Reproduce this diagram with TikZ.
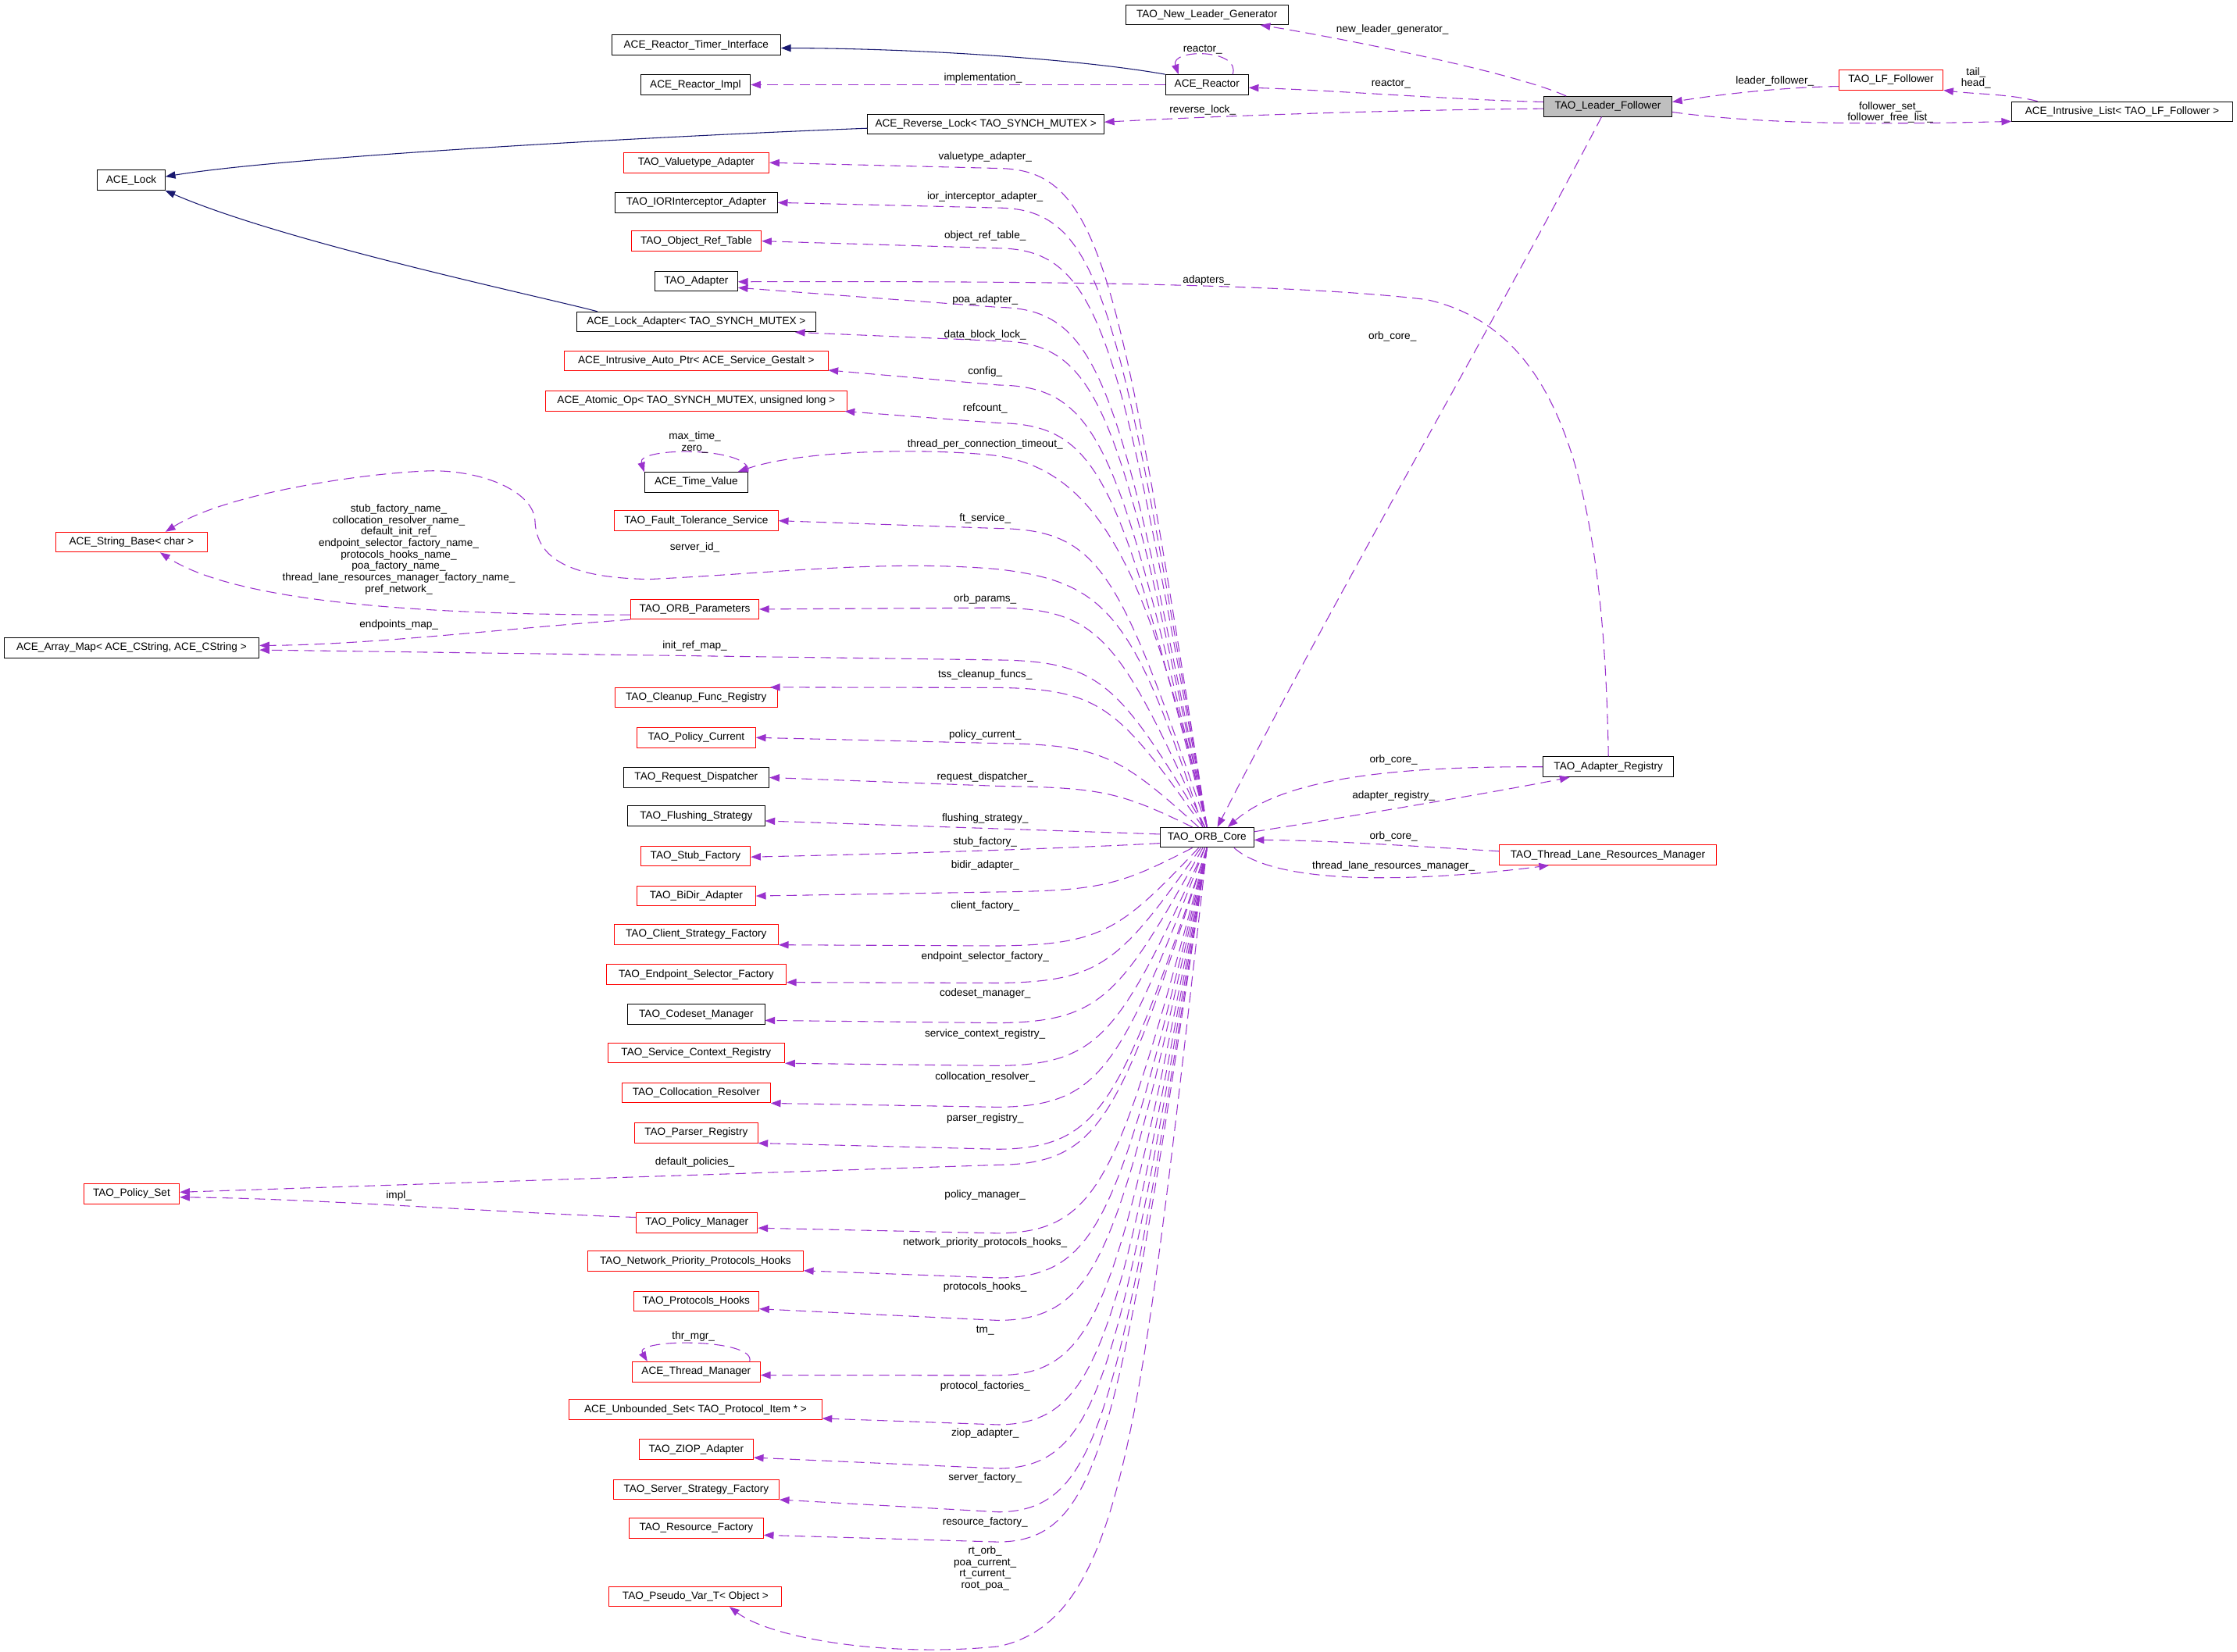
\documentclass[tikz,border=0pt]{standalone}
\usepackage{fontspec}
\setmainfont{Liberation Sans}
\usepackage{tikz}
\usetikzlibrary{arrows.meta}
\definecolor{usecol}{HTML}{9A32CD}
\definecolor{inhcol}{HTML}{191970}
\definecolor{bggray}{HTML}{BFBFBF}
\begin{document}
\begin{tikzpicture}[x=1.37pt, y=-1.37pt,
  every node/.style={font=\fontsize{10.2}{11}\selectfont},
  cls/.style={draw=black, fill=white, line width=0.75pt, minimum height=19.2pt, inner xsep=3pt, inner ysep=0pt},
  nodoc/.style={cls, draw=red},
  cur/.style={cls, fill=bggray},
  lbl/.style={inner sep=0pt, align=center},
  usage/.style={draw=usecol, line width=0.8pt, dash pattern=on 10pt off 5.5pt, -{Triangle[length=9.5pt,width=7pt]}},
  inh/.style={draw=inhcol, line width=0.8pt, -{Triangle[length=9.5pt,width=7pt]}}]
\useasboundingbox (0,0) rectangle (1568,1157.4);
% classes
\node[cls, minimum width=156pt] (nlg) at (846,10.3) {TAO\_New\_Leader\_Generator};
\node[cls, minimum width=162pt] (timer) at (488,31.6) {ACE\_Reactor\_Timer\_Interface};
\node[cls, minimum width=79.5pt] (reactor) at (846,59.4) {ACE\_Reactor};
\node[cls, minimum width=105.5pt] (rimpl) at (487.5,59.4) {ACE\_Reactor\_Impl};
\node[cur, minimum width=123pt] (lf) at (1127,74.6) {TAO\_Leader\_Follower};
\node[nodoc, minimum width=100pt] (lffollow) at (1325.5,56) {TAO\_LF\_Follower};
\node[cls, minimum width=212pt] (ilist) at (1487.5,78.3) {ACE\_Intrusive\_List< TAO\_LF\_Follower >};
\node[cls, minimum width=227pt] (revlock) at (691,87) {ACE\_Reverse\_Lock< TAO\_SYNCH\_MUTEX >};
\node[cls, minimum width=65pt] (acelock) at (92,126.3) {ACE\_Lock};
\node[nodoc, minimum width=140pt] (valadp) at (488,114) {TAO\_Valuetype\_Adapter};
\node[cls, minimum width=156pt] (iorada) at (488,142) {TAO\_IORInterceptor\_Adapter};
\node[nodoc, minimum width=125pt] (objref) at (488,169) {TAO\_Object\_Ref\_Table};
\node[cls, minimum width=79.5pt] (adapter) at (488,197) {TAO\_Adapter};
\node[cls, minimum width=229pt] (lockadp) at (488,225.6) {ACE\_Lock\_Adapter< TAO\_SYNCH\_MUTEX >};
\node[nodoc, minimum width=253pt] (autoptr) at (488,253) {ACE\_Intrusive\_Auto\_Ptr< ACE\_Service\_Gestalt >};
\node[nodoc, minimum width=289pt] (atomic) at (488,281) {ACE\_Atomic\_Op< TAO\_SYNCH\_MUTEX, unsigned long >};
\node[cls, minimum width=99pt] (timeval) at (488,338) {ACE\_Time\_Value};
\node[nodoc, minimum width=157.5pt] (ftserv) at (488,365) {TAO\_Fault\_Tolerance\_Service};
\node[nodoc, minimum width=146pt] (strbase) at (92.2,380) {ACE\_String\_Base< char >};
\node[nodoc, minimum width=123pt] (params) at (487,427) {TAO\_ORB\_Parameters};
\node[cls, minimum width=245pt] (arrmap) at (92.2,454) {ACE\_Array\_Map< ACE\_CString, ACE\_CString >};
\node[nodoc, minimum width=156pt] (cleanup) at (488,489) {TAO\_Cleanup\_Func\_Registry};
\node[nodoc, minimum width=114pt] (polcur) at (488,517) {TAO\_Policy\_Current};
\node[cls, minimum width=140pt] (reqdisp) at (488,545) {TAO\_Request\_Dispatcher};
\node[cls, minimum width=131.5pt] (flush) at (488,572) {TAO\_Flushing\_Strategy};
\node[nodoc, minimum width=105.5pt] (stubfac) at (487.5,600) {TAO\_Stub\_Factory};
\node[nodoc, minimum width=114pt] (bidir) at (488,628) {TAO\_BiDir\_Adapter};
\node[nodoc, minimum width=157.5pt] (clifac) at (488,655) {TAO\_Client\_Strategy\_Factory};
\node[nodoc, minimum width=172.6pt] (endsel) at (488,683) {TAO\_Endpoint\_Selector\_Factory};
\node[cls, minimum width=131.5pt] (codeset) at (488,711) {TAO\_Codeset\_Manager};
\node[nodoc, minimum width=170pt] (svcctx) at (488,738) {TAO\_Service\_Context\_Registry};
\node[nodoc, minimum width=142.5pt] (colloc) at (488,766) {TAO\_Collocation\_Resolver};
\node[nodoc, minimum width=118pt] (parser) at (488,794) {TAO\_Parser\_Registry};
\node[nodoc, minimum width=92pt] (polset) at (92.2,836.8) {TAO\_Policy\_Set};
\node[nodoc, minimum width=116.5pt] (polmgr) at (488.5,857) {TAO\_Policy\_Manager};
\node[nodoc, minimum width=207pt] (netprio) at (487.5,884) {TAO\_Network\_Priority\_Protocols\_Hooks};
\node[nodoc, minimum width=120.5pt] (prothooks) at (488,912) {TAO\_Protocols\_Hooks};
\node[nodoc, minimum width=123pt] (thrmgr) at (488,961.5) {ACE\_Thread\_Manager};
\node[nodoc, minimum width=242.5pt] (protset) at (487.5,988) {ACE\_Unbounded\_Set< TAO\_Protocol\_Item * >};
\node[nodoc, minimum width=109.6pt] (ziop) at (488,1016) {TAO\_ZIOP\_Adapter};
\node[nodoc, minimum width=159pt] (srvfac) at (488,1044) {TAO\_Server\_Strategy\_Factory};
\node[nodoc, minimum width=129pt] (resfac) at (488,1071) {TAO\_Resource\_Factory};
\node[nodoc, minimum width=165.8pt] (pseudo) at (487.5,1119) {TAO\_Pseudo\_Var\_T< Object >};
\node[cls, minimum width=90pt] (core) at (846,587) {TAO\_ORB\_Core};
\node[cls, minimum width=125.5pt] (adreg) at (1127.4,537.5) {TAO\_Adapter\_Registry};
\node[nodoc, minimum width=208pt] (tlrm) at (1127,599.3) {TAO\_Thread\_Lane\_Resources\_Manager};
% inheritance
\draw[inh] (reactor.166) .. controls (760,42) and (650,34) .. (timer.-2);
\draw[inh] (revlock.182.3) .. controls (450,96) and (200,110) .. (acelock.6.5);
\draw[inh] (lockadp.174) .. controls (380,208) and (200,170) .. (acelock.-17);
% leader follower part
\draw[usage] (reactor.22.4) .. controls (870,34) and (820,34) .. (reactor.160.7);
\draw[usage] (reactor.west) -- (rimpl.east);
\draw[usage] (lf.166.4) .. controls (1060,50) and (930,25) .. (nlg.-11);
\draw[usage] (lf.176) .. controls (1020,70) and (930,63) .. (reactor.-4);
\draw[usage] (lf.182) .. controls (990,77) and (880,80) .. (revlock.1.5);
\draw[usage] (lffollow.187.3) .. controls (1260,61) and (1220,64) .. (lf.4.8);
\draw[usage] (ilist.173) .. controls (1410,66) and (1385,66) .. (lffollow.south east);
\draw[usage] (lf.-5.6) .. controls (1240,88) and (1330,87) .. (ilist.-175.6);
\draw[usage] ([xshift=-6pt]lf.south) .. controls (1040,240) and (940,410) .. ([xshift=10pt]core.north);
% adapter registry and lane resources
\draw[usage] (adreg.west) .. controls (980,537) and (900,545) .. ([xshift=20pt]core.north);
\draw[usage] (core.7) .. controls (930,575) and (1050,555) .. (adreg.-165.2);
\draw[usage] (tlrm.178) .. controls (990,593) and (930,589) .. (core.-3);
\draw[usage] ([xshift=26pt]core.south) .. controls (900,625) and (1020,615) .. (tlrm.-170.3);
\draw[usage] (adreg.north) .. controls (1124,330) and (1090,230) .. (1000,210) .. controls (900,198) and (700,197) .. (adapter.-1.4);
% orb core, upper members
\draw[usage] (core.north) .. controls (785,187.3) and (772,119) .. (700,118) -- (valadp.east);
\draw[usage] (core.north) .. controls (785,210.8) and (772,146.7) .. (700,145.7) -- (iorada.east);
\draw[usage] (core.north) .. controls (785,234.9) and (772,175) .. (700,174) -- (objref.east);
\draw[usage] (core.north) .. controls (785,270.1) and (772,216.4) .. (700,215.4) -- (adapter.-9.3);
\draw[usage] (core.north) .. controls (785,290.2) and (772,240) .. (700,239) -- (lockadp.-6);
\draw[usage] (core.north) .. controls (785,316.4) and (772,270.9) .. (700,269.9) -- (autoptr.-4.7);
\draw[usage] (core.north) .. controls (785,339) and (772,297.5) .. (700,296.5) -- (atomic.-4);
\draw[usage] (core.north) .. controls (805,400) and (770,325) .. (691,318.6) .. controls (640,314) and (560,316) .. (timeval.14);
\draw[usage] (timeval.11) .. controls (528,313) and (446,313) .. (timeval.169);
\draw[usage] (core.north) .. controls (785,401.8) and (772,371.4) .. (700,370.4) -- (ftserv.east);
\draw[usage] ([xshift=-4pt]core.north) .. controls (795,430) and (775,408) .. (700,399) .. controls (620,392) and (540,402) .. (455,406) .. controls (400,405) and (376,392) .. (375,365) .. controls (374,345) and (340,330) .. (303,330) .. controls (260,331) and (160,345) .. (strbase.17.1);
\draw[usage] ([xshift=-2pt]core.north) .. controls (785,449) and (772,427) .. (700,426) -- (params.east);
\draw[usage] (params.185) .. controls (320,431) and (170,425) .. (strbase.-20.3);
\draw[usage] (params.south west) .. controls (360,440) and (260,452) .. (arrmap.1.5);
\draw[usage] ([xshift=-2pt]core.north) .. controls (785,480.2) and (772,463.6) .. (700,462.6) -- (arrmap.-1);
\draw[usage] ([xshift=-4pt]core.north) .. controls (785,496.7) and (772,483) .. (700,482) -- (cleanup.8.5);
\draw[usage] ([xshift=-8pt]core.north) .. controls (785,529.9) and (772,522) .. (700,521) -- (polcur.east);
\draw[usage] ([xshift=-14pt]core.north) .. controls (785,555) and (772,552) .. (700,551) -- (reqdisp.east);
\draw[usage] (core.176.6) -- (flush.-4.2);
\draw[usage] (core.187.8) .. controls (760,594) and (650,598) .. (stubfac.-1.5);
% orb core, lower members
\draw[usage] ([xshift=-14pt]core.south) .. controls (785,620.5) and (772,624.2) .. (700,625.2) -- (bidir.east);
\draw[usage] ([xshift=-8pt]core.south) .. controls (785,652.7) and (772,662) .. (700,663) -- (clifac.south east);
\draw[usage] ([xshift=-6pt]core.south) .. controls (785,674.8) and (772,688) .. (700,689) -- (endsel.-5);
\draw[usage] ([xshift=-4pt]core.south) .. controls (785,698.6) and (772,716) .. (700,717) -- (codeset.-5.6);
\draw[usage] ([xshift=-2pt]core.south) .. controls (785,724) and (772,746) .. (700,747) -- (svcctx.south east);
\draw[usage] ([xshift=-2pt]core.south) .. controls (785,748.7) and (772,775) .. (700,776) -- (colloc.south east);
\draw[usage] (core.south) .. controls (785,773.8) and (772,804.5) .. (700,805.5) -- (parser.south east);
\draw[usage] (core.south) .. controls (785,783.1) and (772,815.5) .. (700,816.5) -- (polset.2);
\draw[usage] (polmgr.175) .. controls (350,850) and (220,840) .. (polset.-4.5);
\draw[usage] (core.south) .. controls (785,823.8) and (772,863.4) .. (700,864.4) -- (polmgr.-5.3);
\draw[usage] (core.south) .. controls (785,850.4) and (772,894.7) .. (700,895.7) -- (netprio.-5.5);
\draw[usage] (core.south) .. controls (785,875.8) and (772,924.5) .. (700,925.5) -- (prothooks.-7.8);
\draw[usage] (thrmgr.11.6) .. controls (530,938) and (444,938) .. (thrmgr.168.4);
\draw[usage] (core.south) .. controls (785,908.5) and (772,963) .. (700,964) -- (thrmgr.-3.8);
\draw[usage] (core.south) .. controls (785,937.9) and (772,997.6) .. (700,998.6) -- (protset.-4.7);
\draw[usage] (core.south) .. controls (785,964) and (772,1028.3) .. (700,1029.3) -- (ziop.-8.5);
\draw[usage] (core.south) .. controls (785,989.9) and (772,1058.8) .. (700,1059.8) -- (srvfac.-7);
\draw[usage] (core.south) .. controls (785,1007.8) and (772,1079.8) .. (700,1080.8) -- (resfac.-6);
\draw[usage] (core.south) .. controls (800,1000) and (788,1135) .. (700,1154) .. controls (620,1162) and (540,1148) .. (pseudo.-17.65);
% edge labels
\node[lbl] (lnlg) at (976,21) {new\_leader\_generator\_};
\node[lbl] (lreactorself) at (843,35) {reactor\_};
\node[lbl] (limpl) at (689,55) {implementation\_};
\node[lbl] (lreactor) at (975,59) {reactor\_};
\node[lbl] (lrevlock) at (843,77) {reverse\_lock\_};
\node[lbl] (lleader) at (1244,57) {leader\_follower\_};
\node[lbl] (ltailhead) at (1385,54.7) {tail\_\\head\_};
\node[lbl] (lfollower) at (1325,78.8) {follower\_set\_\\follower\_free\_list\_};
\node[lbl] (lvaluetype) at (690.5,110) {valuetype\_adapter\_};
\node[lbl] (lior) at (690.5,137.8) {ior\_interceptor\_adapter\_};
\node[lbl] (lobjref) at (690.5,165.5) {object\_ref\_table\_};
\node[lbl] (ladapters) at (845.7,196.3) {adapters\_};
\node[lbl] (lpoa) at (690.5,210) {poa\_adapter\_};
\node[lbl] (ldatablock) at (690.5,234.7) {data\_block\_lock\_};
\node[lbl] (lorbcorelf) at (976,236) {orb\_core\_};
\node[lbl] (lconfig) at (690.5,260.4) {config\_};
\node[lbl] (lrefcount) at (690.5,286.2) {refcount\_};
\node[lbl] (ltimeself) at (487,310) {max\_time\_\\zero\_};
\node[lbl] (ltimeout) at (690.5,311.3) {thread\_per\_connection\_timeout\_};
\node[lbl] (lftserv) at (690.5,363.6) {ft\_service\_};
\node[lbl] (lstrnames) at (279.5,385.1) {stub\_factory\_name\_\\collocation\_resolver\_name\_\\default\_init\_ref\_\\endpoint\_selector\_factory\_name\_\\protocols\_hooks\_name\_\\poa\_factory\_name\_\\thread\_lane\_resources\_manager\_factory\_name\_\\pref\_network\_};
\node[lbl] (lserverid) at (487,383.8) {server\_id\_};
\node[lbl] (lorbparams) at (690.5,419.8) {orb\_params\_};
\node[lbl] (lendpoints) at (279.6,438) {endpoints\_map\_};
\node[lbl] (linitref) at (487,452.6) {init\_ref\_map\_};
\node[lbl] (ltss) at (690.5,473.2) {tss\_cleanup\_funcs\_};
\node[lbl] (lpolcur) at (690.5,515) {policy\_current\_};
\node[lbl] (lorbcorereg) at (976.8,532.9) {orb\_core\_};
\node[lbl] (lreqdisp) at (690.5,544.8) {request\_dispatcher\_};
\node[lbl] (ladreg) at (976.8,558) {adapter\_registry\_};
\node[lbl] (lflush) at (690.5,573.8) {flushing\_strategy\_};
\node[lbl] (lorbcoretlrm) at (976.8,586.2) {orb\_core\_};
\node[lbl] (lstubfac) at (690.5,590.2) {stub\_factory\_};
\node[lbl] (lbidir) at (690.5,606.8) {bidir\_adapter\_};
\node[lbl] (ltlrm) at (976.8,607.2) {thread\_lane\_resources\_manager\_};
\node[lbl] (lclifac) at (690.5,634.8) {client\_factory\_};
\node[lbl] (lendsel) at (690.5,670.5) {endpoint\_selector\_factory\_};
\node[lbl] (lcodeset) at (690.5,696.6) {codeset\_manager\_};
\node[lbl] (lsvcctx) at (690.5,724.9) {service\_context\_registry\_};
\node[lbl] (lcolloc) at (690.5,754.7) {collocation\_resolver\_};
\node[lbl] (lparser) at (690.5,783.8) {parser\_registry\_};
\node[lbl] (ldefpol) at (487,814.5) {default\_policies\_};
\node[lbl] (lpolmgr) at (690.5,837.9) {policy\_manager\_};
\node[lbl] (limplpol) at (279.6,838) {impl\_};
\node[lbl] (lnetprio) at (690.5,871) {network\_priority\_protocols\_hooks\_};
\node[lbl] (lprothooks) at (690.5,902.2) {protocols\_hooks\_};
\node[lbl] (lthrmgr) at (486,937) {thr\_mgr\_};
\node[lbl] (ltm) at (690.5,932.4) {tm\_};
\node[lbl] (lprotfac) at (690.5,971.5) {protocol\_factories\_};
\node[lbl] (lziop) at (690.5,1004.6) {ziop\_adapter\_};
\node[lbl] (lsrvfac) at (690.5,1035.9) {server\_factory\_};
\node[lbl] (lresfac) at (690.5,1066.8) {resource\_factory\_};
\node[lbl] (lpseudo) at (690.5,1099.3) {rt\_orb\_\\poa\_current\_\\rt\_current\_\\root\_poa\_};
\end{tikzpicture}
\end{document}
